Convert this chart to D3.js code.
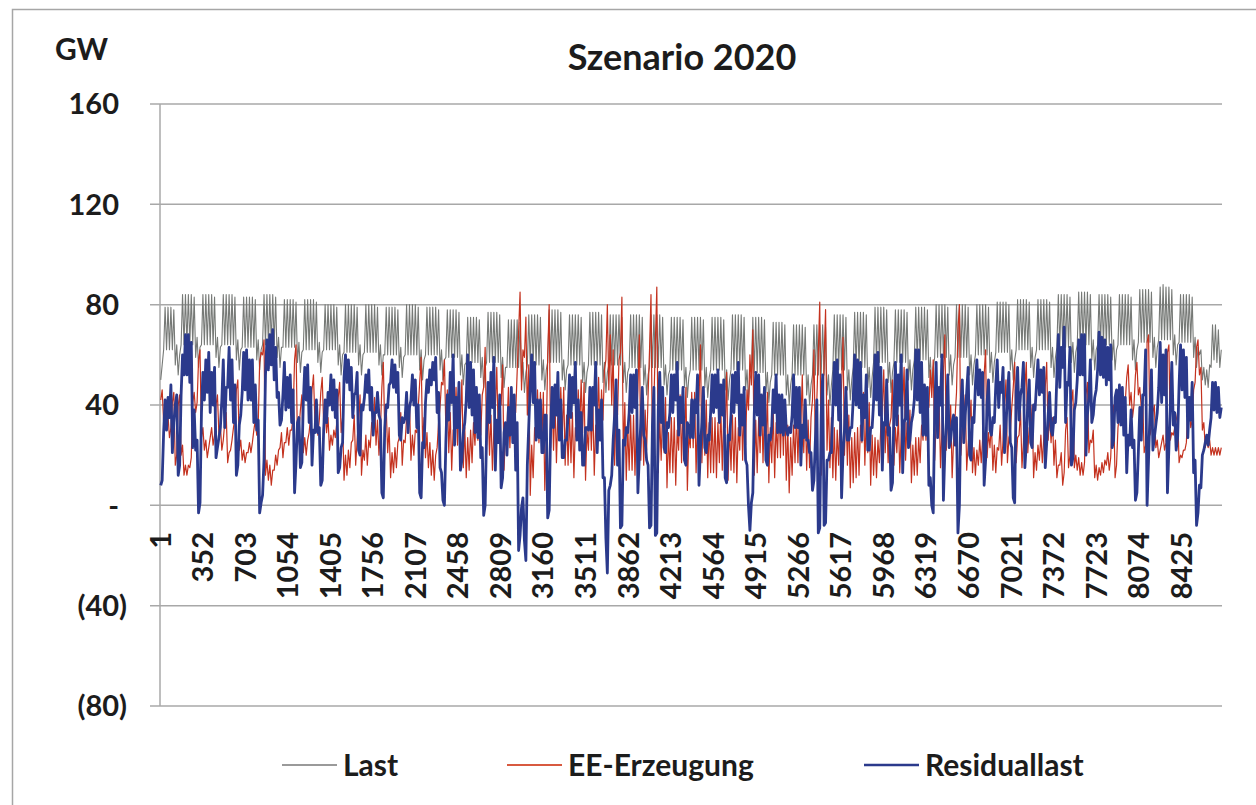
<!DOCTYPE html>
<html>
<head>
<meta charset="utf-8">
<script src="https://cdn.jsdelivr.net/npm/d3@7"></script>
<style>
  html, body { margin: 0; padding: 0; background: #fff; }
  svg { display: block; }
  text { font-family: Lato, "Open Sans", sans-serif; font-weight: 700; fill: #1c1c1c; }
</style>
</head>
<body>
<svg id="chart" width="1256" height="805"></svg>
<script>
// ---------- data (12-hourly samples, GW) ----------
const seriesNames = ["Last", "EE-Erzeugung", "Residuallast"];

const xTickLabels = ["1","352","703","1054","1405","1756","2107","2458","2809","3160","3511","3862","4213",
  "4564","4915","5266","5617","5968","6319","6670","7021","7372","7723","8074","8425"];

const yTickValues = [160, 120, 80, 40, 0, -40, -80];
const yTickLabels = ["160", "120", "80", "40", "-", "(40)", "(80)"];

const last = [
  50,56,62,79,62,79,62,79,62,78,56,64,52,60,
  64,84,64,84,64,84,64,84,64,83,59,67,55,63,
  64,84,64,84,64,84,64,84,64,83,59,67,55,63,
  64,84,64,84,64,84,64,84,64,83,58,66,54,62,
  63,83,63,83,63,83,63,83,63,82,58,66,54,62,
  64,84,64,84,64,84,64,84,64,83,59,67,55,63,
  63,82,63,82,63,82,63,82,63,81,57,65,53,61,
  62,82,62,82,62,82,62,82,62,81,57,65,53,61,
  62,80,62,80,62,80,62,80,62,79,56,64,52,60,
  61,80,61,80,61,80,61,80,61,79,56,64,52,60,
  61,80,61,80,61,80,61,80,61,79,56,64,52,60,
  60,79,60,79,60,79,60,79,60,78,55,63,51,59,
  60,80,60,80,60,80,60,80,60,79,54,62,50,58,
  60,79,60,79,60,79,60,79,60,78,54,62,50,58,
  59,78,59,78,59,78,59,78,59,77,52,60,48,56,
  57,75,57,75,57,75,57,75,57,74,51,59,47,55,
  57,77,57,77,57,77,57,77,57,76,51,59,47,55,
  55,74,55,74,55,74,55,74,55,73,49,57,45,53,
  56,76,56,76,56,76,56,76,56,75,50,58,46,54,
  57,78,57,78,57,78,57,78,57,77,50,58,46,54,
  56,76,56,76,56,76,56,76,56,75,49,57,45,53,
  56,77,56,77,56,77,56,77,56,76,49,57,45,53,
  56,76,56,76,56,76,56,76,56,75,49,57,45,53,
  55,76,55,76,55,76,55,76,55,75,48,56,44,52,
  55,76,55,76,55,76,55,76,55,75,48,56,44,52,
  54,75,54,75,54,75,54,75,54,74,47,55,43,51,
  54,75,54,75,54,75,54,75,54,74,47,55,43,51,
  54,75,54,75,54,75,54,75,54,74,46,54,42,50,
  54,76,54,76,54,76,54,76,54,75,46,54,42,50,
  53,75,53,75,53,75,53,75,53,74,45,53,41,49,
  52,73,52,73,52,73,52,73,52,72,44,52,40,48,
  52,72,52,72,52,72,52,72,52,71,44,52,40,48,
  52,72,52,72,52,72,52,72,52,71,44,52,40,48,
  54,76,54,76,54,76,54,76,54,75,46,54,42,50,
  55,77,55,77,55,77,55,77,55,76,47,55,43,51,
  57,79,57,79,57,79,57,79,57,78,49,57,45,53,
  57,78,57,78,57,78,57,78,57,77,50,58,46,54,
  58,79,58,79,58,79,58,79,58,78,51,59,47,55,
  59,80,59,80,59,80,59,80,59,79,52,60,48,56,
  59,80,59,80,59,80,59,80,59,79,52,60,48,56,
  60,80,60,80,60,80,60,80,60,79,53,61,49,57,
  61,81,61,81,61,81,61,81,61,80,54,62,50,58,
  62,82,62,82,62,82,62,82,62,81,55,63,51,59,
  62,82,62,82,62,82,62,82,62,81,55,63,51,59,
  63,84,63,84,63,84,63,84,63,83,57,65,53,61,
  64,85,64,85,64,85,64,85,64,84,58,66,54,62,
  64,84,64,84,64,84,64,84,64,83,58,66,54,62,
  64,84,64,84,64,84,64,84,64,83,58,66,54,62,
  65,86,65,86,65,86,65,86,65,85,59,67,55,63,
  66,87,66,88,66,87,66,87,66,86,60,68,56,64,
  65,84,65,84,65,84,65,84,65,83,59,67,55,63,
  60,62,50,55,48,54,47,56,55,72,58,72,57,70,
  55,62
];

const eeErzeugung = [
  42,46,33,37,32,36,27,31,41,45,16,20,40,44,
  20,24,12,16,12,16,15,19,41,45,37,41,58,62,
  27,31,22,26,19,23,27,31,24,28,40,44,28,32,
  22,26,33,37,17,21,22,26,31,35,46,50,22,26,
  18,22,17,21,21,25,21,25,30,34,28,32,57,61,
  60,66,12,18,10,16,8,14,14,20,16,22,23,29,
  19,25,25,31,24,30,30,36,58,64,24,30,38,44,
  21,27,20,26,29,35,46,52,33,39,28,34,45,51,
  32,38,29,35,22,28,24,30,27,33,43,49,29,35,
  10,20,12,22,15,25,26,36,16,26,34,44,12,22,
  18,28,16,26,23,33,33,43,24,34,20,30,47,57,
  29,39,21,31,11,21,13,23,15,25,27,37,16,26,
  25,35,31,41,18,28,20,30,29,39,49,59,25,35,
  19,29,15,25,12,22,10,20,23,33,39,49,48,58,
  30,46,21,37,14,30,31,47,24,40,34,50,15,31,
  11,27,14,30,17,33,24,40,26,42,28,44,47,63,
  24,40,20,36,14,30,39,55,28,44,40,56,14,30,
  31,47,23,39,26,42,37,53,69,85,46,62,59,75,
  36,56,4,24,11,31,26,46,25,45,25,45,6,26,
  60,80,23,43,22,42,17,37,27,47,27,47,16,36,
  16,36,17,37,11,31,26,46,30,50,29,49,10,30,
  22,42,22,42,12,32,31,51,26,46,34,54,58,80,
  46,68,40,62,16,38,36,58,61,83,19,41,10,32,
  14,36,14,36,12,34,46,68,18,40,16,38,22,44,
  62,84,19,41,65,87,13,35,18,40,21,43,7,29,
  13,35,13,35,8,30,22,44,17,39,25,47,6,28,
  23,45,23,45,13,35,42,64,17,39,20,42,11,33,
  13,35,13,35,11,33,17,39,14,36,31,53,10,32,
  14,36,13,35,9,31,22,44,18,40,24,46,38,60,
  48,70,12,34,13,35,21,43,17,39,23,45,9,31,
  17,39,11,33,19,41,19,41,20,42,10,32,5,27,
  12,32,17,37,17,37,32,52,21,41,14,34,15,35,
  42,62,22,42,61,81,12,32,58,78,22,42,15,35,
  11,31,10,30,16,36,47,67,20,40,16,36,7,27,
  9,29,11,31,12,32,25,45,16,36,21,41,8,28,
  12,27,11,26,17,32,39,54,21,36,17,32,35,50,
  16,31,21,36,13,28,40,55,18,33,23,38,9,24,
  12,27,12,27,17,32,26,41,26,41,39,54,43,58,
  18,33,28,43,15,30,53,68,22,37,25,40,11,26,
  35,45,70,80,20,30,34,44,14,24,32,42,13,23,
  12,22,16,26,17,27,52,62,19,29,23,33,14,24,
  13,23,22,32,16,26,40,50,17,27,29,39,47,57,
  17,27,28,38,15,25,47,57,21,31,30,40,11,21,
  14,24,18,28,17,27,47,57,26,36,25,35,16,26,
  11,16,16,21,8,13,30,35,15,20,41,46,15,20,
  14,19,12,17,12,17,44,49,21,26,25,30,11,16,
  10,15,12,17,13,18,16,21,14,19,35,40,11,16,
  31,36,32,37,36,41,51,56,40,45,35,40,52,57,
  44,47,39,42,21,24,65,68,28,31,37,40,23,26,
  19,22,25,28,22,25,61,64,26,29,28,31,34,37,
  17,20,19,22,22,25,38,41,31,34,46,49,63,66,
  52,55,30,33,23,26,23,26,20,23,20,23,20,23,
  20,23
];

const residuallast = [
  8,10,29,42,30,43,35,48,21,33,40,44,12,16,
  44,60,52,68,52,68,49,65,23,38,22,26,-3,1,
  37,53,42,58,45,61,37,53,40,55,19,23,27,31,
  42,58,31,47,47,63,42,58,33,48,12,16,32,36,
  45,61,46,62,42,58,42,58,33,48,30,34,-3,1,
  4,18,52,66,54,68,56,70,50,63,43,45,32,34,
  44,57,38,51,39,52,33,46,5,17,33,35,15,17,
  41,55,42,56,33,47,16,30,29,42,29,31,8,10,
  30,42,33,45,40,52,38,50,35,46,13,15,23,25,
  51,60,49,58,46,55,35,44,45,53,22,20,40,38,
  43,52,45,54,38,47,28,37,37,45,36,34,5,3,
  31,40,39,48,49,58,47,56,45,53,28,26,35,33,
  35,45,29,39,42,52,40,50,31,40,5,3,25,23,
  41,50,45,54,48,57,50,59,37,45,15,13,2,0,
  25,44,34,53,41,60,24,43,31,49,14,18,29,33,
  42,60,39,57,36,54,29,47,27,44,19,23,-4,0,
  29,49,33,53,39,59,14,34,25,44,7,11,29,33,
  20,39,28,47,25,44,14,33,-18,-12,-1,3,-14,-22,
  16,32,48,60,41,57,26,42,27,42,21,21,36,36,
  -5,-2,30,47,31,48,36,53,26,42,19,19,26,26,
  36,52,35,51,41,57,26,42,22,37,16,16,31,31,
  30,47,30,47,40,57,21,38,26,42,11,11,-13,-27,
  6,8,12,26,36,50,16,30,-9,-8,26,24,31,29,
  37,52,37,52,39,54,5,20,33,47,28,26,18,16,
  -9,-8,32,47,-12,-11,38,53,33,47,23,21,33,31,
  37,52,37,52,42,57,28,43,33,47,18,16,33,31,
  27,42,27,42,37,52,8,23,33,47,23,21,28,26,
  37,52,37,52,39,54,33,48,36,50,11,9,28,26,
  36,52,37,53,41,57,28,44,32,47,18,16,0,-10,
  1,5,37,53,36,52,28,44,32,47,18,16,28,26,
  31,46,37,52,29,44,29,44,28,42,30,28,31,29,
  36,52,31,47,31,47,16,32,27,42,26,26,21,21,
  6,10,26,42,-11,-9,36,52,-8,-7,18,18,21,21,
  39,57,40,58,34,52,3,21,30,47,26,26,31,31,
  42,60,40,58,39,57,26,44,35,52,22,22,31,31,
  41,60,42,61,36,55,14,33,32,50,28,31,6,9,
  37,57,32,52,40,60,13,33,35,54,23,26,33,36,
  42,62,42,62,37,57,28,48,28,47,8,11,0,-3,
  37,57,27,47,40,60,2,22,33,52,23,26,33,36,
  24,35,-11,0,39,50,25,36,45,55,20,18,35,33,
  48,58,44,54,43,53,8,18,41,50,30,28,35,33,
  48,58,39,49,45,55,21,31,44,53,25,23,3,1,
  45,55,34,44,47,57,15,25,41,50,25,23,40,38,
  48,58,44,54,45,55,15,25,36,45,30,28,35,33,
  52,68,47,63,55,71,33,49,48,63,16,19,38,41,
  50,66,52,68,52,68,20,36,43,58,33,36,43,46,
  54,69,52,67,51,66,48,63,50,64,23,26,43,46,
  33,48,32,47,28,43,13,28,24,38,23,26,2,5,
  21,39,26,44,44,62,0,18,37,54,22,27,32,37,
  47,65,41,60,44,62,5,23,40,57,32,37,22,27,
  48,64,46,62,43,59,27,43,34,49,13,18,-8,-3,
  8,7,20,22,25,28,24,30,35,49,38,49,37,47,
  35,39
];

const hoursPerSample = 12;
const totalHours = 8760;

// ---------- drawing ----------
const svg = d3.select("#chart");
const plot = { left: 160, right: 1222, top: 104, bottom: 706 };
const gridColor = "#a8a8a8";
const colors = { "Last": "#767976", "EE-Erzeugung": "#c4321f", "Residuallast": "#2b3a8c" };
const widths = { "Last": 1.1, "EE-Erzeugung": 1.2, "Residuallast": 2.8 };

svg.append("rect").attr("width", 1256).attr("height", 805).attr("fill", "#fff");

// outer chart frame
svg.append("path").attr("d", "M12.5,805 V9.5 H1256")
  .attr("fill", "none").attr("stroke", "#a6a6a6").attr("stroke-width", 1.5);

const x = d3.scaleLinear().domain([0, totalHours]).range([plot.left, plot.right]);
const y = d3.scaleLinear().domain([-80, 160]).range([plot.bottom, plot.top]);

// gridlines + small outside ticks
svg.append("g").selectAll("line").data(yTickValues).join("line")
  .attr("x1", plot.left - 10).attr("x2", plot.right)
  .attr("y1", d => y(d)).attr("y2", d => y(d))
  .attr("stroke", gridColor).attr("stroke-width", 1.5);

// vertical value axis line
svg.append("line").attr("x1", plot.left).attr("x2", plot.left)
  .attr("y1", y(160)).attr("y2", y(-80))
  .attr("stroke", gridColor).attr("stroke-width", 1.5);

// y tick labels
svg.append("g").selectAll("text").data(yTickValues).join("text")
  .attr("x", (d, i) => yTickLabels[i].endsWith(")") ? 127 : 119)
  .attr("y", d => y(d)).attr("dy", "0.36em")
  .attr("text-anchor", "end").attr("font-size", 29)
  .text((d, i) => yTickLabels[i]);

// x tick labels (rotated)
svg.append("g").selectAll("text").data(xTickLabels).join("text")
  .attr("transform", d => `translate(${x(+d - 0.5)},532) rotate(-90)`)
  .attr("dy", "0.36em").attr("text-anchor", "end").attr("font-size", 29)
  .text(d => d);

// series lines
const line = d3.line()
  .x((d, i) => x(i * hoursPerSample + hoursPerSample / 2))
  .y(d => y(d));

const seriesData = { "Last": last, "EE-Erzeugung": eeErzeugung, "Residuallast": residuallast };
svg.append("g").selectAll("path").data(seriesNames).join("path")
  .attr("d", n => line(seriesData[n]))
  .attr("fill", "none")
  .attr("stroke", n => colors[n])
  .attr("stroke-width", n => widths[n])
  .attr("stroke-linejoin", "round");

// title and unit
svg.append("text").attr("x", 682).attr("y", 70).attr("text-anchor", "middle")
  .attr("font-size", 36).text("Szenario 2020");
svg.append("text").attr("x", 55).attr("y", 60).attr("font-size", 30).text("GW");

// legend
const legendX = [282, 507, 864];
const lg = svg.append("g").selectAll("g").data(seriesNames).join("g")
  .attr("transform", (d, i) => `translate(${legendX[i]},765)`);
lg.append("line").attr("x1", 0).attr("x2", 55).attr("y1", 0).attr("y2", 0)
  .attr("stroke", d => d === "EE-Erzeugung" ? "#d85a40" : (d === "Last" ? "#9a9a9a" : colors[d]))
  .attr("stroke-width", d => d === "Residuallast" ? 2.6 : 2);
lg.append("text").attr("x", 61).attr("dy", "0.36em").attr("font-size", 30).text(d => d);
</script>
</body>
</html>
